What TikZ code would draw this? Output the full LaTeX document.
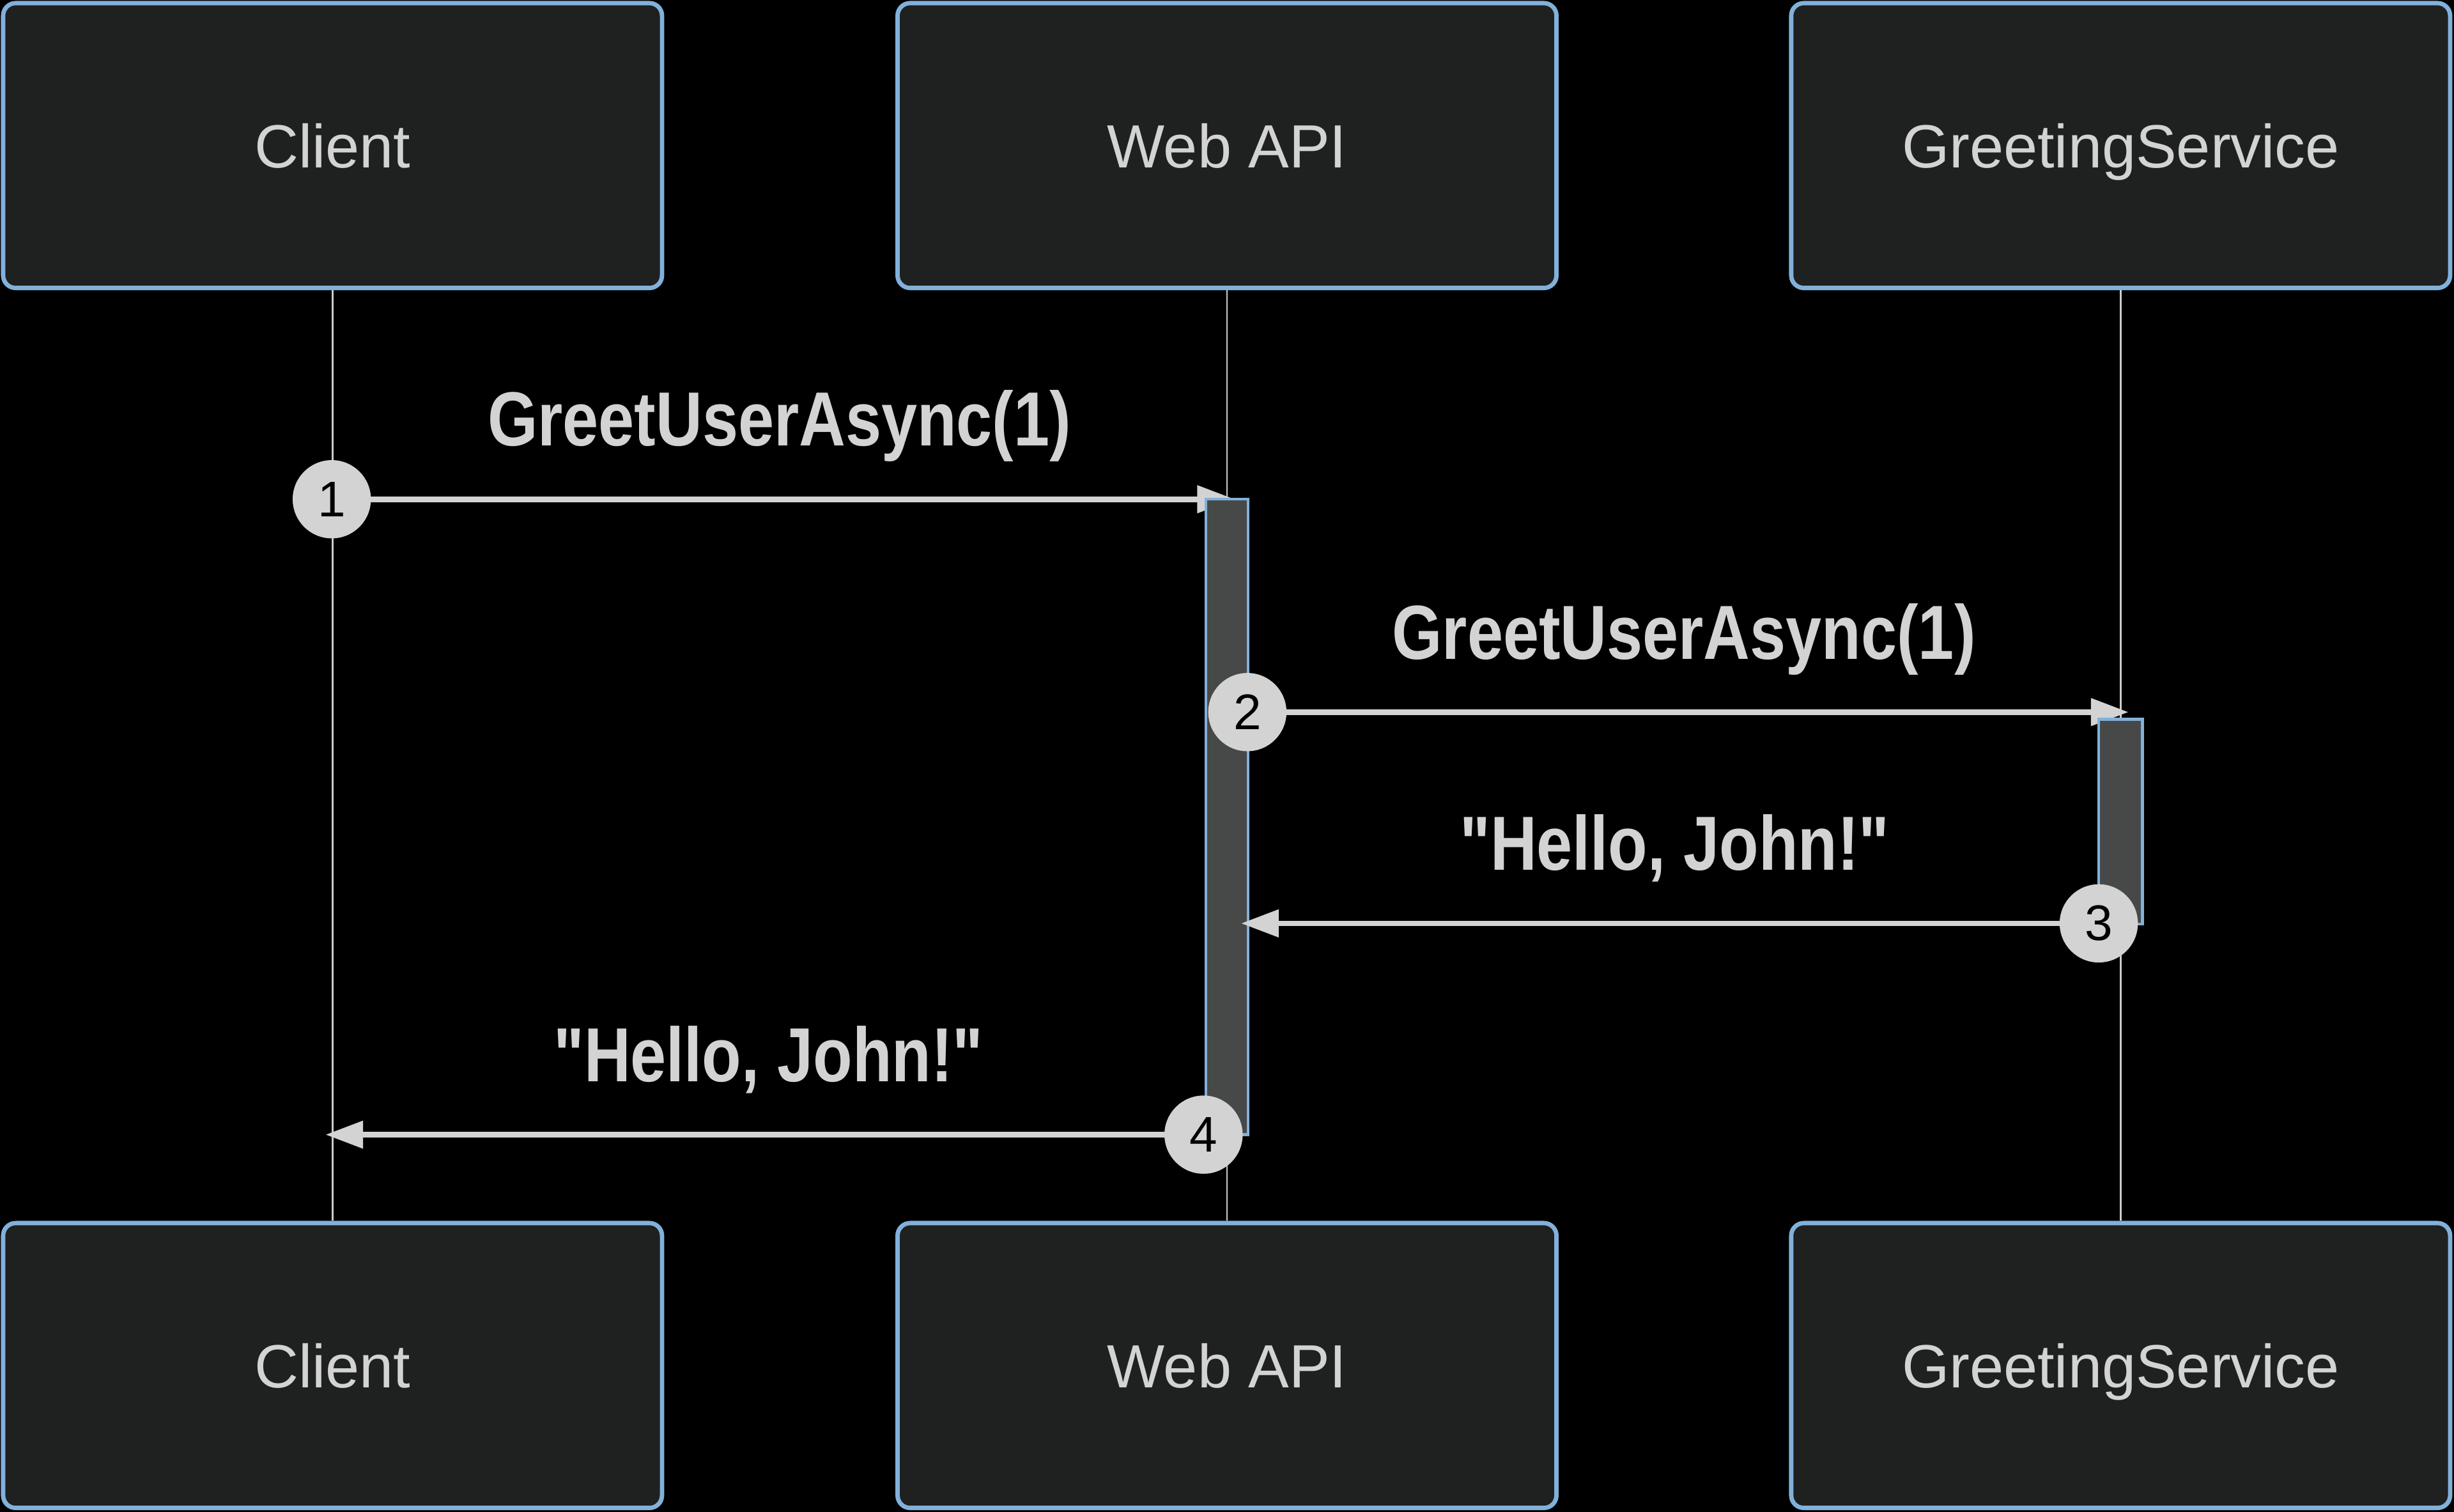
\documentclass[tikz,border=0pt]{standalone}
\usepackage{fontspec}
\setmainfont{Liberation Sans}[Ligatures=TeXOff]
\usetikzlibrary{arrows.meta}
\definecolor{boxfill}{HTML}{1F2020}
\definecolor{boxborder}{HTML}{81B1DB}
\definecolor{sig}{HTML}{D3D3D3}
\definecolor{actfill}{HTML}{474949}
\definecolor{lifec}{HTML}{CCCCCC}
\begin{document}
\begin{tikzpicture}[x=1pt,y=-1pt,
  actor/.style={draw=boxborder, line width=2.8pt, fill=boxfill, rounded corners=8pt,
    minimum width=421pt, minimum height=182pt, inner sep=0pt,
    text=sig, font=\fontsize{39}{44}\selectfont, text height=28pt, text depth=0pt},
  lifeline/.style={draw=lifec, line width=1pt},
  msg/.style={draw=sig, line width=3.5pt, -{Triangle[length=24pt,width=17pt]}},
  lbl/.style={anchor=base, inner sep=0pt, text=sig, font=\fontsize{49}{52}\selectfont\bfseries},
  num/.style={circle, fill=sig, minimum size=50pt, inner sep=0pt, text=black,
    font=\fontsize{32}{36}\selectfont},
  actbox/.style={fill=actfill, draw=boxborder, line width=1.8pt}
]
\fill[black] (0,0) rectangle (1568,966);
\useasboundingbox (0,0) rectangle (1568,966);

% actors
\node[actor] (ct) at (212.5,93) {Client};
\node[actor] (wt) at (784,93) {Web API};
\node[actor] (gt) at (1355,93) {GreetingService};
\node[actor] (cb) at (212.5,872.5) {Client};
\node[actor] (wb) at (784,872.5) {Web API};
\node[actor] (gb) at (1355,872.5) {GreetingService};

% lifelines
\draw[lifeline] (ct.south) -- (cb.north);
\draw[lifeline] (wt.south) -- (wb.north);
\draw[lifeline] (gt.south) -- (gb.north);

% message coordinates
\coordinate (s1) at (212,319);  \coordinate (e1) at (789,319);
\coordinate (s2) at (797,455);  \coordinate (e2) at (1360,455);
\coordinate (s3) at (1341,590); \coordinate (e3) at (793,590);
\coordinate (s4) at (769,725);  \coordinate (e4) at (208,725);

% message 1
\draw[msg] (s1) -- (e1);
\node[lbl] (l1) at (498,285) {\scalebox{0.84}[1]{GreetUserAsync(1)}};

% Web API activation
\draw[actbox] (770.5,319) rectangle (797.5,725);

% message 2
\draw[msg] (s2) -- (e2);
\node[lbl] (l2) at (1076,421) {\scalebox{0.84}[1]{GreetUserAsync(1)}};

% GreetingService activation
\draw[actbox] (1341,459.5) rectangle (1369,590.5);

% message 3
\draw[msg] (s3) -- (e3);
\node[lbl] (l3) at (1070,556) {\scalebox{0.84}[1]{"Hello, John!"}};

% message 4
\draw[msg] (s4) -- (e4);
\node[lbl] (l4) at (491,691) {\scalebox{0.84}[1]{"Hello, John!"}};

% sequence numbers
\node[num] (n1) at (s1) {1};
\node[num] (n2) at (s2) {2};
\node[num] (n3) at (s3) {3};
\node[num] (n4) at (s4) {4};
\end{tikzpicture}
\end{document}
